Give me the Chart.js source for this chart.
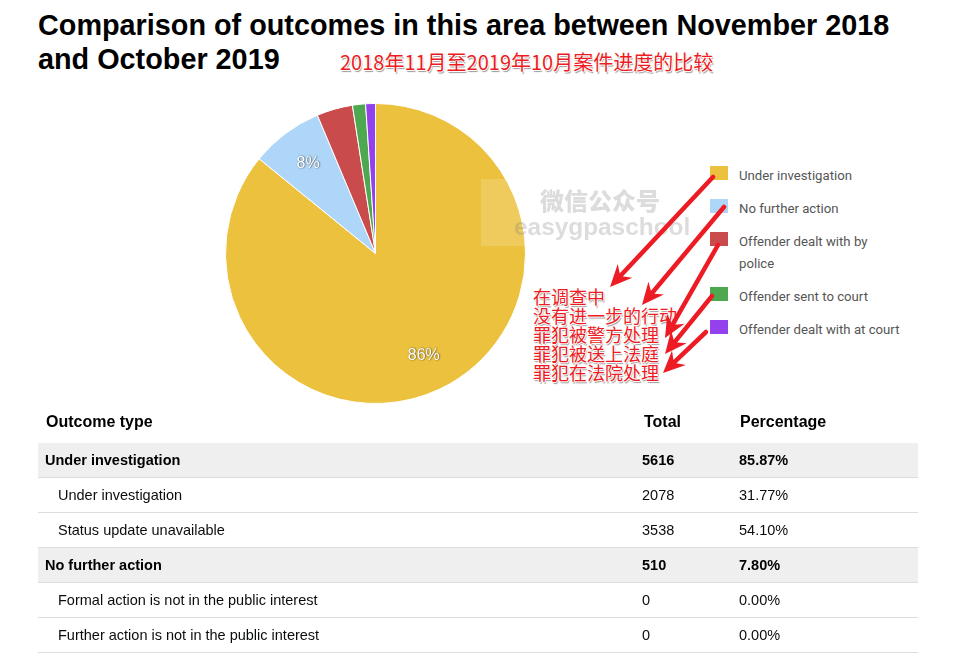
<!DOCTYPE html>
<html>
<head>
<meta charset="utf-8">
<script src="https://cdn.jsdelivr.net/npm/chart.js@4/dist/chart.umd.min.js"></script>
<style>
html, body { margin: 0; padding: 0; background: #fff; width: 963px; height: 658px; overflow: hidden; }
body { position: relative; font-family: "Liberation Sans", Arial, sans-serif; color: #0b0c0c; }
h1 { position: absolute; left: 38px; top: 8px; width: 870px; margin: 0; font-size: 28.8px; line-height: 34px; font-weight: bold; color: #000; }
#pie { position: absolute; left: 220px; top: 98px; }
#legend { position: absolute; left: 710px; top: 0; font-family: Roboto, sans-serif; font-size: 13.2px; color: #555; }
.leg-item { position: absolute; left: 0; white-space: nowrap; }
.leg-swatch { position: absolute; left: 0; width: 18px; height: 14px; }
.leg-text { position: absolute; left: 29px; top: -1px; line-height: 22px; }
table { position: absolute; left: 38px; top: 401px; width: 880px; border-collapse: collapse; font-size: 14.5px; table-layout: fixed; }
th { text-align: left; font-size: 16px; height: 42px; padding: 0; color: #000; }
td { height: 34px; padding: 0; border-bottom: 1px solid #ddd; }
th:first-child { padding-left: 8px; }
th:nth-child(2) { padding-left: 2px; }
th:nth-child(3) { padding-left: 1px; }
tr.group td { background: #efefef; font-weight: bold; color: #000; }
tr.group td:first-child { padding-left: 7px; }
tr.sub td:first-child { padding-left: 20px; }
#overlay { position: absolute; left: 0; top: 0; pointer-events: none; }
.zh { position: absolute; font-family: "Noto Sans CJK SC", sans-serif; color: #ed1c24; white-space: nowrap;
  text-shadow: -1px 0 #fff, 1px 0 #fff, 0 -1px #fff, 0 1px #fff, 1px 2px 1px #999; }
#wm-box { position: absolute; left: 481px; top: 179px; width: 69px; height: 67px; background: rgba(255,255,255,0.16); }
.wm { position: absolute; font-weight: bold; color: rgba(120,120,120,0.26); white-space: nowrap; }
</style>
</head>
<body>
<h1>Comparison of outcomes in this area between November 2018 and October 2019</h1>
<canvas id="pie" width="311" height="311"></canvas>
<div id="legend"></div>
<table id="outcomes">
  <colgroup><col style="width:604px"><col style="width:97px"><col></colgroup>
  <thead><tr><th>Outcome type</th><th>Total</th><th>Percentage</th></tr></thead>
  <tbody></tbody>
</table>

<div id="wm-box"></div>
<div class="wm" style="left:540px;top:186px;font-family:'Noto Sans CJK SC';font-size:24px;line-height:27px;font-weight:900">微信公众号</div>
<div class="wm" style="left:514px;top:213px;font-size:24.4px;line-height:28px">easygpaschool</div>

<div class="zh" style="left:340px;top:48px;font-size:20px;line-height:28px">2018年11月至2019年10月案件进度的比较</div>
<div id="notes"></div>
<svg id="overlay" width="963" height="658"></svg>

<script>
const outcomeLabels = ['Under investigation', 'No further action', 'Offender dealt with by police', 'Offender sent to court', 'Offender dealt with at court'];
const outcomeTotals = [5616, 510, 253, 92, 69];
const outcomeColors = ['#ecc13e', '#aed6f8', '#c94b4b', '#4ea84f', '#9440ed'];
const sliceText = ['86%', '8%', '', '', ''];

const legendTops = [166, 199, 232, 287, 320];

const rowNames = ['Under investigation', 'Under investigation', 'Status update unavailable', 'No further action', 'Formal action is not in the public interest', 'Further action is not in the public interest'];
const rowTotals = ['5616', '2078', '3538', '510', '0', '0'];
const rowPercents = ['85.87%', '31.77%', '54.10%', '7.80%', '0.00%', '0.00%'];
const rowGroups = [true, false, false, true, false, false];

const noteLines = ['在调查中', '没有进一步的行动', '罪犯被警方处理', '罪犯被送上法庭', '罪犯在法院处理'];
const arrowFrom = [[713, 177], [724, 207], [718, 245], [712, 296], [706, 332]];
const arrowTo = [[610, 287], [642, 305], [665, 338], [665, 354], [663, 373]];

// percent labels sit inside the slices, same as the google chart did
const sliceLabels = {
    id: 'sliceLabels',
    afterDatasetsDraw(chart) {
        const ctx = chart.ctx;
        chart.getDatasetMeta(0).data.forEach((arc, i) => {
            if (!sliceText[i]) return;
            const mid = (arc.startAngle + arc.endAngle) / 2;
            const r = arc.outerRadius * 0.75;
            const x = arc.x + Math.cos(mid) * r;
            const y = arc.y + Math.sin(mid) * r;
            ctx.save();
            ctx.font = '16px "Liberation Sans"';
            ctx.textAlign = 'center';
            ctx.textBaseline = 'middle';
            ctx.shadowColor = 'rgba(0,0,0,0.75)';
            ctx.shadowBlur = 1.5;
            ctx.shadowOffsetX = 0.5;
            ctx.shadowOffsetY = 0.5;
            ctx.fillStyle = '#fff';
            ctx.fillText(sliceText[i], x, y);
            ctx.restore();
        });
    }
};

new Chart(document.getElementById('pie'), {
    type: 'pie',
    data: {
        labels: outcomeLabels,
        datasets: [{
            data: outcomeTotals,
            backgroundColor: outcomeColors,
            borderColor: '#fff',
            borderWidth: 1
        }]
    },
    options: {
        responsive: false,
        animation: false,
        layout: { padding: 5 },
        plugins: { legend: { display: false }, tooltip: { enabled: false } }
    },
    plugins: [sliceLabels]
});

// legend
const legend = document.getElementById('legend');
outcomeLabels.forEach((label, i) => {
    const item = document.createElement('div');
    item.className = 'leg-item';
    item.style.top = legendTops[i] + 'px';
    let text = label;
    if (label.endsWith(' police')) text = label.replace(' police', '<br>police');
    item.innerHTML = `<span class="leg-swatch" style="background:${outcomeColors[i]}"></span><span class="leg-text">${text}</span>`;
    legend.appendChild(item);
});

// table
const tbody = document.querySelector('#outcomes tbody');
rowNames.forEach((name, i) => {
    tbody.innerHTML += `
        <tr class="${rowGroups[i] ? 'group' : 'sub'}">
            <td>${name}</td>
            <td>${rowTotals[i]}</td>
            <td>${rowPercents[i]}</td>
        </tr>`;
});

// chinese notes + red arrows on top
const notes = document.getElementById('notes');
noteLines.forEach((line, i) => {
    const el = document.createElement('div');
    el.className = 'zh';
    el.style.cssText = `left:533px;top:${287 + i * 19}px;font-size:18px;line-height:19px`;
    el.innerText = line;
    notes.appendChild(el);
});

const svg = document.getElementById('overlay');
arrowFrom.forEach((from, i) => {
    const to = arrowTo[i];
    const a = Math.atan2(to[1] - from[1], to[0] - from[0]);
    const along = (d, side) => [
        to[0] - Math.cos(a) * d - Math.sin(a) * side,
        to[1] - Math.sin(a) * d + Math.cos(a) * side
    ];
    const neck = along(15, 0);
    const barbA = along(22, 10), barbB = along(22, -10);
    svg.innerHTML += `<line x1="${from[0]}" y1="${from[1]}" x2="${neck[0]}" y2="${neck[1]}" stroke="#ed1c24" stroke-width="4.5" stroke-linecap="round"/>
        <polygon points="${to[0]},${to[1]} ${barbA[0]},${barbA[1]} ${neck[0]},${neck[1]} ${barbB[0]},${barbB[1]}" fill="#ed1c24"/>`;
});
</script>
</body>
</html>
